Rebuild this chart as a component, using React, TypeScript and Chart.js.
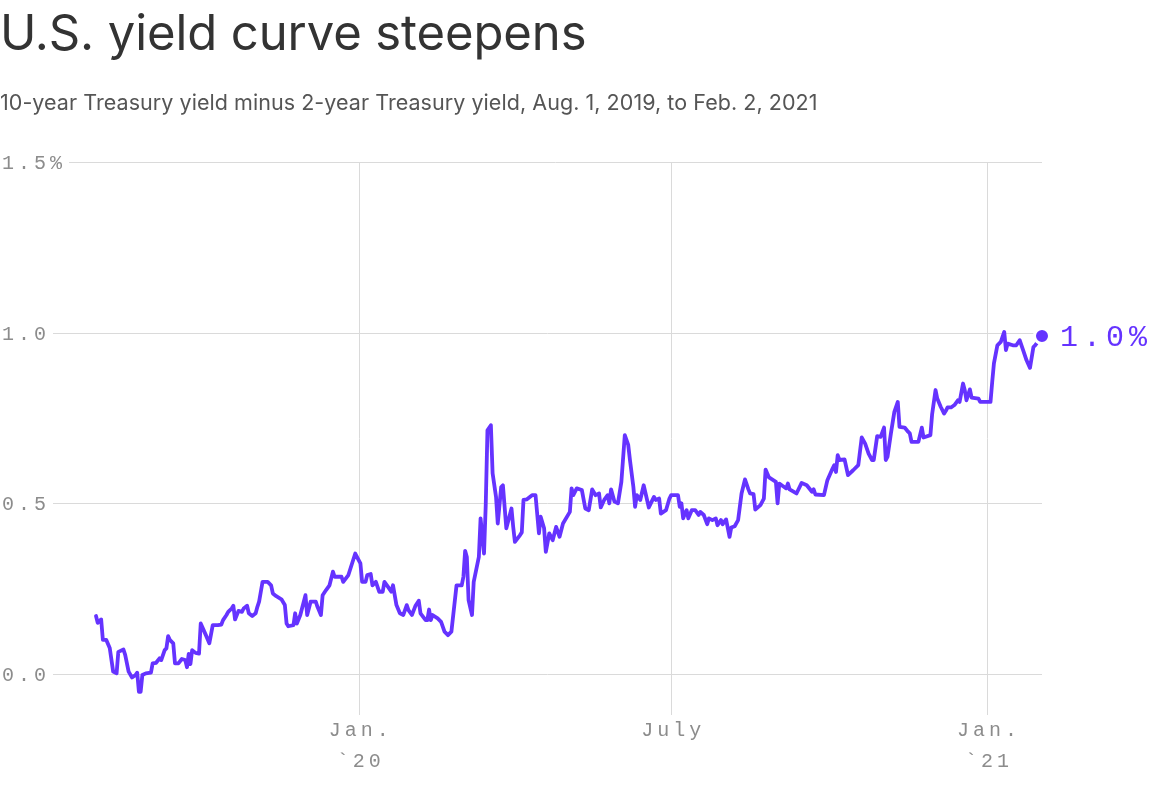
import React, { useEffect, useRef } from 'react';
import { Chart, registerables } from 'chart.js';

Chart.register(...registerables);

// ---- Data ----
const startDate = '2019-08-01';
const endDate = '2021-02-02';

const dayOffsets = [
  0, 1, 3, 4, 6, 8, 10, 12, 13, 16,
  17, 19, 21, 23, 24, 25, 26, 27, 29, 32,
  33, 35, 37, 38, 40, 41, 42, 43, 45, 46,
  48, 50, 52, 53, 54, 55, 56, 58, 60, 61,
  64, 66, 68, 71, 73, 74, 76, 77, 79, 80,
  81, 83, 85, 86, 88, 89, 91, 93, 94, 95,
  96, 97, 100, 102, 103, 105, 108, 110, 111, 112,
  115, 116, 117, 119, 122, 123, 125, 128, 129, 131,
  132, 134, 136, 138, 139, 143, 144, 147, 151, 154,
  155, 157, 158, 160, 161, 163, 165, 167, 168, 170,
  172, 173, 175, 177, 179, 181, 182, 184, 186, 188,
  189, 192, 193, 194, 195, 196, 199, 201, 203, 205,
  207, 210, 213, 214, 215, 216, 217, 219, 220, 223,
  224, 226, 227, 228, 230, 231, 233, 234, 236, 237,
  239, 242, 243, 244, 247, 248, 249, 251, 254, 256,
  258, 259, 261, 262, 264, 266, 268, 270, 272, 276,
  277, 278, 280, 283, 285, 287, 289, 291, 293, 294,
  296, 298, 299, 300, 302, 304, 306, 308, 310, 311,
  313, 314, 315, 317, 319, 322, 325, 326, 328, 329,
  332, 334, 335, 339, 340, 341, 342, 343, 344, 345,
  347, 349, 351, 352, 354, 356, 357, 359, 361, 362,
  364, 365, 367, 369, 370, 372, 374, 376, 378, 380,
  381, 383, 384, 387, 389, 390, 392, 396, 397, 398,
  400, 402, 403, 404, 408, 411, 414, 417, 418, 419,
  424, 426, 429, 430, 431, 432, 433, 436, 438, 441,
  444, 446, 448, 450, 452, 453, 455, 457, 459, 460,
  461, 463, 465, 467, 468, 471, 473, 474, 475, 479,
  481, 482, 486, 487, 489, 490, 492, 494, 495, 496,
  498, 500, 502, 503, 505, 506, 507, 509, 510, 514,
  515, 518, 521, 522, 523, 525, 527, 529, 530, 531,
  534, 536, 538, 540, 542, 544, 546, 547, 551,
];

// 10-year minus 2-year Treasury yield spread, percentage points
const spreadValues = [
  0.17, 0.15, 0.16, 0.10, 0.10, 0.076, 0.007, 0.002, 0.065, 0.072,
  0.056, 0.007, -0.01, -0.003, 0.004, -0.052, -0.052, -0.003, 0.002, 0.004,
  0.031, 0.033, 0.046, 0.041, 0.07, 0.075, 0.111, 0.10, 0.09, 0.031,
  0.031, 0.044, 0.041, 0.02, 0.059, 0.029, 0.07, 0.062, 0.06, 0.148,
  0.114, 0.09, 0.143, 0.143, 0.145, 0.158, 0.173, 0.182, 0.192, 0.20,
  0.16, 0.185, 0.182, 0.192, 0.20, 0.178, 0.17, 0.178, 0.197, 0.212,
  0.241, 0.27, 0.27, 0.26, 0.236, 0.228, 0.219, 0.202, 0.148, 0.14,
  0.143, 0.178, 0.148, 0.173, 0.231, 0.173, 0.212, 0.212, 0.197, 0.173,
  0.231, 0.246, 0.26, 0.30, 0.285, 0.285, 0.27, 0.29, 0.353, 0.324,
  0.27, 0.27, 0.29, 0.293, 0.26, 0.27, 0.241, 0.241, 0.27, 0.256,
  0.241, 0.26, 0.202, 0.178, 0.173, 0.202, 0.187, 0.173, 0.199, 0.215,
  0.178, 0.158, 0.158, 0.189, 0.158, 0.173, 0.163, 0.153, 0.124, 0.114,
  0.124, 0.26, 0.26, 0.285, 0.361, 0.343, 0.217, 0.173, 0.27, 0.343,
  0.456, 0.353, 0.495, 0.714, 0.729, 0.588, 0.519, 0.441, 0.548, 0.553,
  0.427, 0.485, 0.431, 0.387, 0.407, 0.415, 0.51, 0.512, 0.524, 0.524,
  0.412, 0.461, 0.427, 0.358, 0.412, 0.392, 0.431, 0.402, 0.441, 0.475,
  0.544, 0.524, 0.544, 0.539, 0.485, 0.48, 0.541, 0.524, 0.529, 0.488,
  0.51, 0.524, 0.50, 0.541, 0.505, 0.50, 0.563, 0.70, 0.671, 0.627,
  0.548, 0.49, 0.524, 0.51, 0.553, 0.488, 0.519, 0.51, 0.514, 0.47,
  0.48, 0.514, 0.524, 0.524, 0.49, 0.50, 0.456, 0.47, 0.48, 0.456,
  0.48, 0.48, 0.466, 0.475, 0.466, 0.439, 0.456, 0.451, 0.456, 0.436,
  0.451, 0.439, 0.453, 0.402, 0.429, 0.433, 0.451, 0.529, 0.57, 0.541,
  0.529, 0.527, 0.482, 0.495, 0.514, 0.599, 0.576, 0.563, 0.50, 0.558,
  0.551, 0.544, 0.558, 0.541, 0.529, 0.56, 0.553, 0.534, 0.541, 0.526,
  0.524, 0.568, 0.602, 0.612, 0.592, 0.641, 0.627, 0.629, 0.583, 0.597,
  0.612, 0.693, 0.675, 0.646, 0.627, 0.627, 0.697, 0.695, 0.722, 0.627,
  0.636, 0.705, 0.768, 0.797, 0.724, 0.722, 0.71, 0.705, 0.68, 0.68,
  0.722, 0.693, 0.70, 0.761, 0.832, 0.807, 0.783, 0.763, 0.771, 0.781,
  0.781, 0.788, 0.802, 0.797, 0.851, 0.832, 0.802, 0.834, 0.81, 0.807,
  0.797, 0.797, 0.797, 0.856, 0.91, 0.963, 0.973, 1.002, 0.949, 0.968,
  0.963, 0.963, 0.978, 0.949, 0.919, 0.897, 0.958, 0.963, 0.99,
];

const yTickValues = [0, 0.5, 1.0, 1.5];
const yTickLabels = ['0.0', '0.5', '1.0', '1.5%'];
const xTickDates = ['2020-01-01', '2020-07-01', '2021-01-01'];
const xTickLabels = [['Jan.', '`20'], ['July'], ['Jan.', '`21']];
const endLabel = '1.0%';

const titleText = 'U.S. yield curve steepens';
const subtitleText = '10-year Treasury yield minus 2-year Treasury yield, Aug. 1, 2019, to Feb. 2, 2021';

// ---- Styles ----
const PURPLE = '#6533ff';
const GRID = '#dadada';
const LABEL = '#8c8c8c';
const MONO = '"Liberation Mono", "DejaVu Sans Mono", monospace';

const daysFromStart = (iso: string) =>
  Math.round((Date.parse(iso + 'T00:00:00Z') - Date.parse(startDate + 'T00:00:00Z')) / 86400000);

const decorPlugin = {
  id: 'axiosDecor',
  beforeDatasetsDraw(chart: any) {
    const { ctx, chartArea, scales } = chart;
    const xs = scales.x;
    const ys = scales.y;
    ctx.save();
    ctx.strokeStyle = GRID;
    ctx.lineWidth = 1;
    // vertical grid lines
    xTickDates.forEach((d) => {
      const px = Math.round(xs.getPixelForValue(daysFromStart(d))) + 0.5;
      ctx.beginPath();
      ctx.moveTo(px, chartArea.top);
      ctx.lineTo(px, chartArea.bottom);
      ctx.stroke();
    });
    // horizontal grid lines + y labels
    ctx.font = `20px ${MONO}`;
    (ctx as any).letterSpacing = '4px';
    ctx.textBaseline = 'middle';
    ctx.textAlign = 'left';
    ctx.fillStyle = LABEL;
    yTickValues.forEach((v, i) => {
      const py = Math.round(ys.getPixelForValue(v)) + 0.5;
      const label = yTickLabels[i];
      const w = ctx.measureText(label).width;
      ctx.fillText(label, 2, py + 1);
      ctx.beginPath();
      ctx.moveTo(2 + w + 3, py);
      ctx.lineTo(chartArea.right, py);
      ctx.stroke();
    });
    // x labels
    ctx.textAlign = 'center';
    xTickDates.forEach((d, i) => {
      const px = xs.getPixelForValue(daysFromStart(d));
      xTickLabels[i].forEach((line, j) => {
        ctx.fillText(line, px + 2, chartArea.bottom + 16 + j * 31);
      });
    });
    ctx.restore();
  },
  afterDatasetsDraw(chart: any) {
    const { ctx, scales } = chart;
    const n = Math.min(dayOffsets.length, spreadValues.length);
    const px = scales.x.getPixelForValue(dayOffsets[n - 1]);
    const py = scales.y.getPixelForValue(spreadValues[n - 1]);
    ctx.save();
    ctx.font = `30px ${MONO}`;
    (ctx as any).letterSpacing = '5px';
    ctx.fillStyle = PURPLE;
    ctx.textBaseline = 'middle';
    ctx.textAlign = 'left';
    ctx.fillText(endLabel, px + 18, py + 2);
    ctx.restore();
  },
};

export default function App() {
  const canvasRef = useRef<HTMLCanvasElement | null>(null);

  useEffect(() => {
    document.body.style.margin = '0';
    const canvas = canvasRef.current;
    if (!canvas) return;
    const n = Math.min(dayOffsets.length, spreadValues.length);
    const points = [];
    for (let i = 0; i < n; i++) points.push({ x: dayOffsets[i], y: spreadValues[i] });
    const lastIdx = n - 1;

    const chart = new Chart(canvas, {
      type: 'line',
      data: {
        datasets: [
          {
            data: points,
            borderColor: PURPLE,
            backgroundColor: PURPLE,
            borderWidth: 3.8,
            borderJoinStyle: 'round',
            borderCapStyle: 'round',
            tension: 0,
            clip: false,
            pointRadius: (c: any) => (c.dataIndex === lastIdx ? 7.5 : 0),
            pointHoverRadius: (c: any) => (c.dataIndex === lastIdx ? 7.5 : 0),
            pointBorderColor: '#ffffff',
            pointBorderWidth: 3,
            pointBackgroundColor: PURPLE,
          } as any,
        ],
      },
      options: {
        animation: false,
        responsive: false,
        maintainAspectRatio: false,
        layout: { padding: { left: 96, right: 112, top: 162, bottom: 73 } },
        plugins: {
          legend: { display: false },
          tooltip: { enabled: false },
          title: { display: false },
        },
        events: [],
        scales: {
          x: { type: 'linear', display: false, min: 0, max: daysFromStart(endDate) },
          y: { type: 'linear', display: false, min: -0.12, max: 1.5 },
        },
      },
      plugins: [decorPlugin],
    });
    return () => chart.destroy();
  }, []);

  return (
    <div style={{ position: 'absolute', left: 0, top: 0, width: 1154, height: 788, background: '#fff', overflow: 'hidden' }}>
      <canvas ref={canvasRef} width={1154} height={788} style={{ position: 'absolute', left: 0, top: 0, width: 1154, height: 788 }} />
      <div
        style={{
          position: 'absolute', left: 0, top: 8, fontFamily: 'Inter, "Noto Sans", sans-serif', fontSize: 49,
          lineHeight: '49px', color: '#333333', letterSpacing: '-0.1px', whiteSpace: 'nowrap', fontWeight: 400,
        }}
      >
        {titleText}
      </div>
      <div
        style={{
          position: 'absolute', left: 0, top: 92, fontFamily: 'Inter, "Noto Sans", sans-serif', fontSize: 21.5,
          lineHeight: '21.5px', color: '#555555', letterSpacing: '0.05px', whiteSpace: 'nowrap', fontWeight: 400,
        }}
      >
        {subtitleText}
      </div>
    </div>
  );
}
